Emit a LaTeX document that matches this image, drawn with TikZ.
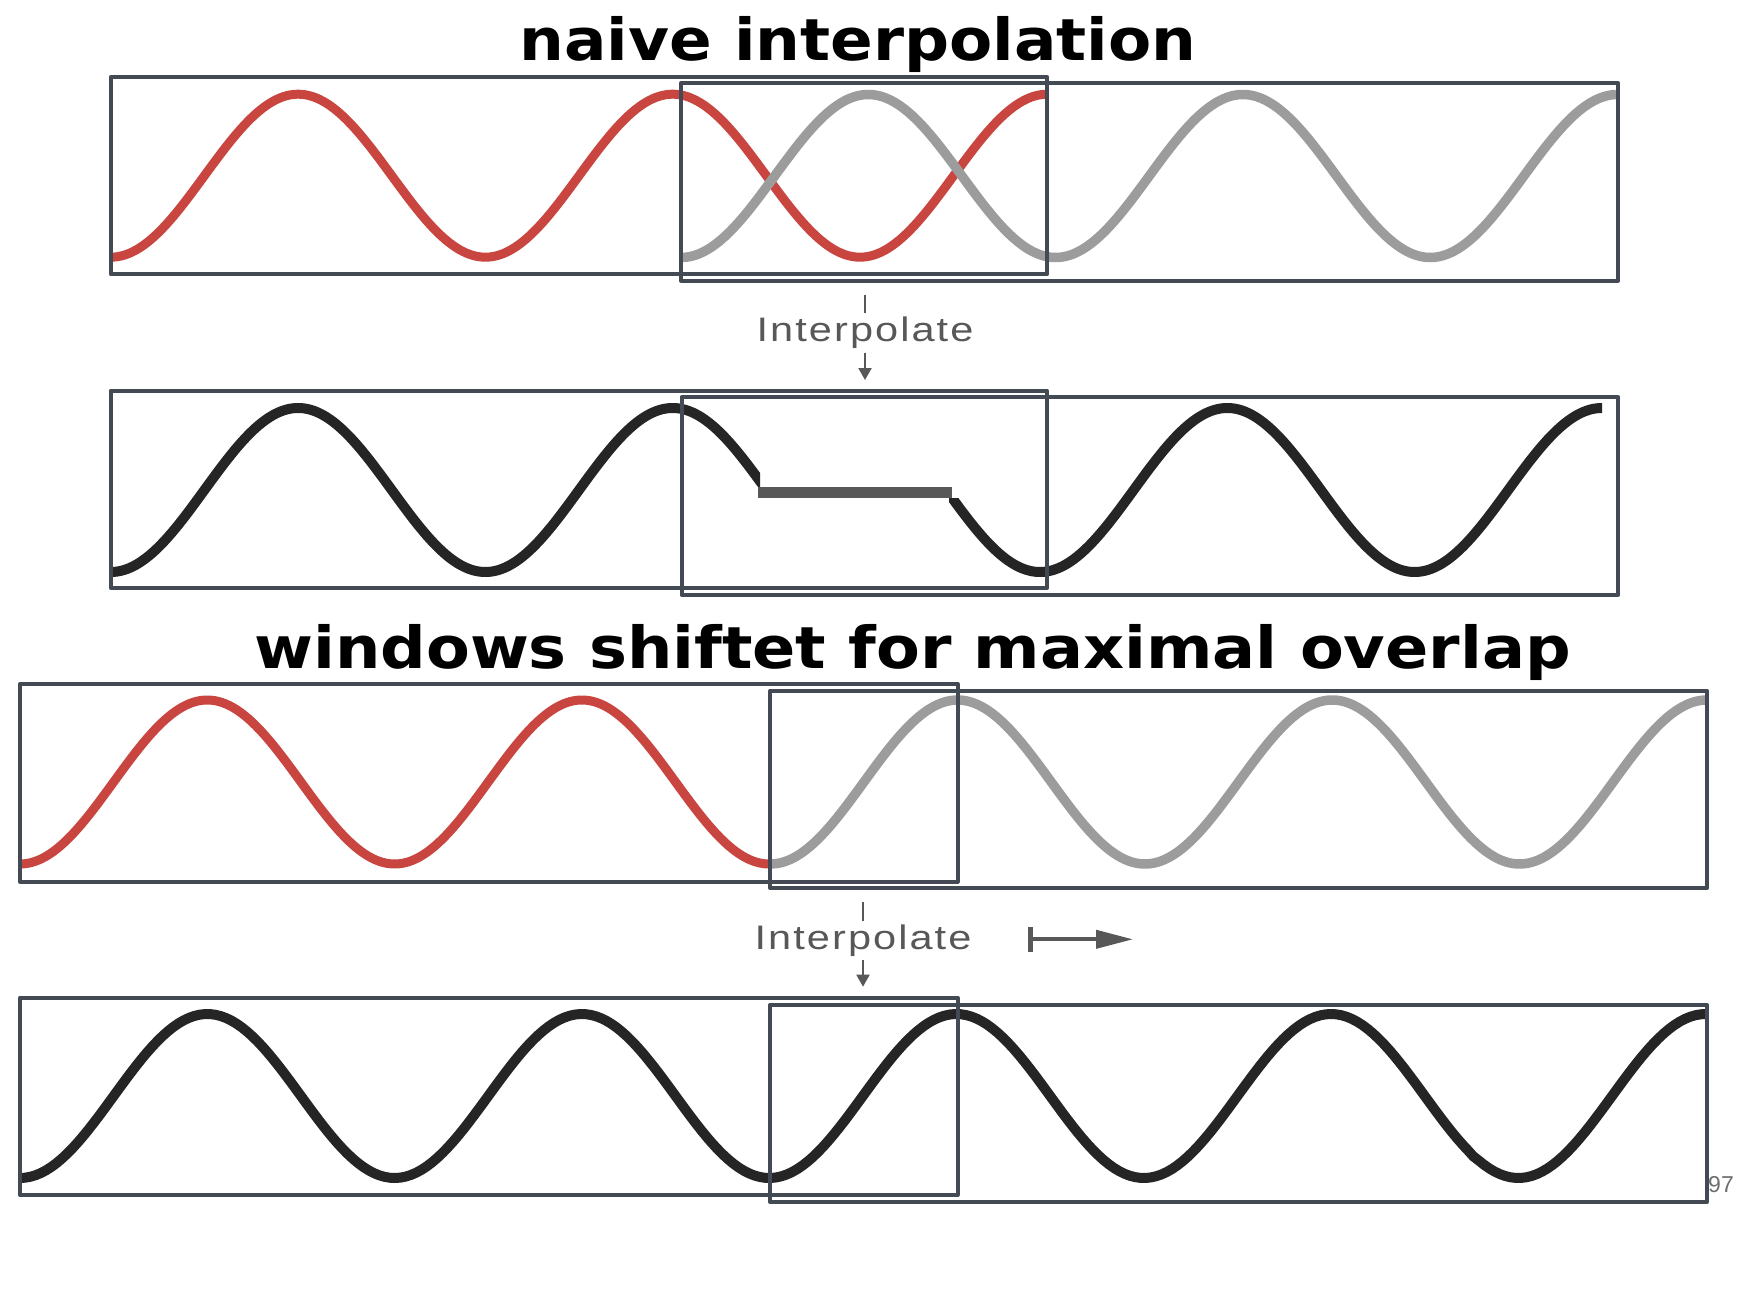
\documentclass[tikz,border=0pt]{standalone}
\usepackage{fontspec}
\usepackage{graphicx}
\usetikzlibrary{arrows.meta}
\newfontfamily\titlefont{DejaVu Sans}
\newfontfamily\labelfont[LetterSpace=5]{Liberation Sans}
\newfontfamily\pagefont{Liberation Sans}
\definecolor{boxc}{RGB}{67,74,83}
\definecolor{redc}{RGB}{201,69,64}
\definecolor{grayc}{RGB}{156,156,156}
\definecolor{blkc}{RGB}{37,37,37}
\definecolor{barc}{RGB}{88,88,88}
\definecolor{labc}{RGB}{88,88,88}
\definecolor{pgc}{RGB}{110,110,110}
% style, from, to, trough x, centre y, amplitude
\newcommand{\mywave}[6]{\draw[#1] plot[domain=#2:#3,samples=320] (\x,{#5+#6*cos(((\x-#4)/374.6)*360)});}
\tikzset{
  winbox/.style={draw=boxc, line width=4pt, line join=round},
  redwave/.style={draw=redc, line width=9pt},
  graywave/.style={draw=grayc, line width=9.5pt},
  blkwave/.style={draw=blkc, line width=10pt},
  tickline/.style={draw=labc, line width=2pt},
  downarrow/.style={draw=labc, fill=labc, line width=2pt, -{Triangle[width=13pt,length=12pt]}},
  titletext/.style={anchor=base, inner sep=0pt, text=black},
  labtext/.style={anchor=base, inner sep=0pt, text=labc},
}
\begin{document}
\begin{tikzpicture}[x=1pt,y=-1pt]
\fill[white] (0,0) rectangle (1738,1308);
\useasboundingbox (0,0) rectangle (1738,1308);

% ---------- waves ----------
% row 1
\mywave{redwave}{110.8}{1047}{110.8}{175.7}{81.5}
\mywave{graywave}{681}{1616}{681}{176}{81.5}
% row 2
\begin{scope}
  \clip (100,370) rectangle (760,600);
  \mywave{blkwave}{110.8}{775}{110.8}{490}{82}
\end{scope}
\begin{scope}
  \clip (949,498) -- (990,498) -- (990,370) -- (1602,370) -- (1602,600) -- (949,600) -- cycle;
  \mywave{blkwave}{930}{1610}{1040}{490}{82}
\end{scope}
\fill[barc] (758,487.3) rectangle (952,498.3);
% row 3
\mywave{redwave}{20}{770}{20}{782}{82}
\mywave{graywave}{770.3}{1706}{770.3}{782}{82}
% row 4
\mywave{blkwave}{20}{1706}{20}{1096}{82}

% page number (partly behind the box edge)
\node[anchor=base east, inner sep=0pt, text=pgc] (pg) at (1734,1192)
  {\pagefont\fontsize{23}{25}\selectfont 97};

% ---------- windows ----------
\draw[winbox] (110.8,76.8) rectangle (1047,274.3);
\draw[winbox] (681,83) rectangle (1618,280.6);
\draw[winbox] (110.8,390.5) rectangle (1047,588);
\draw[winbox] (681.5,397.2) rectangle (1618,595);
\draw[winbox] (20,684) rectangle (957.5,881.5);
\draw[winbox] (770.3,690.5) rectangle (1707,888);
\draw[winbox] (20,997.6) rectangle (957.5,1195);
\draw[winbox] (770.3,1005) rectangle (1707,1202);

% ---------- titles ----------
\node[titletext] (t1) at (858,60.5)
  {\scalebox{1.085}[1]{\titlefont\bfseries\fontsize{58}{60}\selectfont naive interpolation}};
\node[titletext] (t2) at (912.5,668.3)
  {\scalebox{1.10}[1]{\titlefont\bfseries\fontsize{58}{60}\selectfont windows shiftet for maximal overlap}};

% ---------- interpolate labels ----------
\node[labtext] (i1) at (865,341.7)
  {\scalebox{1.22}[1]{\labelfont\fontsize{34}{36}\selectfont Interpolate}};
\coordinate (i1a) at (865,295);
\coordinate (i1b) at (865,313.3);
\coordinate (i1c) at (865,352.7);
\coordinate (i1d) at (865,380);
\draw[tickline] (i1a) -- (i1b);
\draw[downarrow] (i1c) -- (i1d);

\node[labtext] (i2) at (863,949)
  {\scalebox{1.22}[1]{\labelfont\fontsize{34}{36}\selectfont Interpolate}};
\coordinate (i2a) at (862.5,901.7);
\coordinate (i2b) at (862.5,920.7);
\coordinate (i2c) at (863,960);
\coordinate (i2d) at (863,986.7);
\draw[tickline] (i2a) -- (i2b);
\draw[downarrow] (i2c) -- (i2d);

% shift arrow
\coordinate (ms) at (1028,939.3);
\coordinate (me) at (1133,939.3);
\draw[draw=labc, fill=labc, line width=4pt, {Bar[width=24.4pt,line width=5pt]}-{Triangle[width=18pt,length=37pt]}] (ms) -- (me);
\end{tikzpicture}
\end{document}
